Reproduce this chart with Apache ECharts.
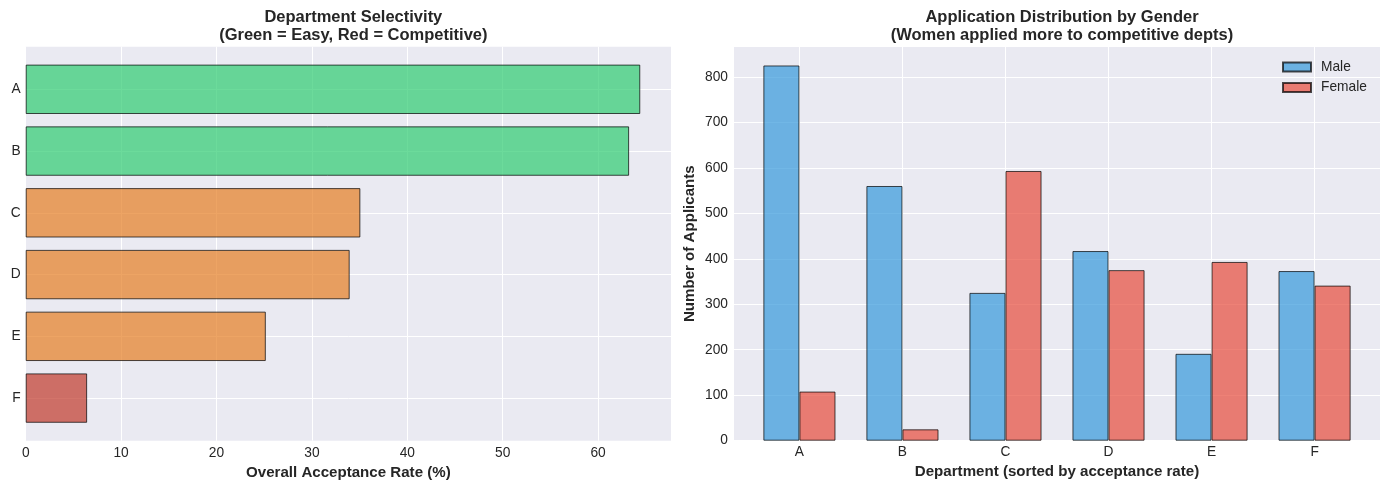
<!DOCTYPE html>
<html>
<head>
<meta charset="utf-8">
<script src="https://cdn.jsdelivr.net/npm/echarts@6/dist/echarts.min.js"></script>
<style>
html,body{margin:0;padding:0;background:#fff;}
#chart{width:1389px;height:489px;}
</style>
</head>
<body>
<div id="chart"></div>
<script>
// ---- data ----
const departments = ['A', 'B', 'C', 'D', 'E', 'F'];
const acceptanceRate = [64.42, 63.25, 35.08, 33.96, 25.17, 6.44];
const maleApplicants = [825, 560, 325, 417, 191, 373];
const femaleApplicants = [108, 25, 593, 375, 393, 341];
const rateTicks = [0, 10, 20, 30, 40, 50, 60];
const countTicks = [0, 100, 200, 300, 400, 500, 600, 700, 800];

// ---- styling ----
const FONT = "'Liberation Sans', Arial, sans-serif";
const TXT = '#262626';
const BG = '#EAEAF2';
const EDGE = 'rgba(0,0,0,0.7)';
function rateColor(v) {
  if (v > 50) return 'rgba(46,204,113,0.7)';
  if (v > 10) return 'rgba(230,126,34,0.7)';
  return 'rgba(192,57,43,0.7)';
}
const rateMax = Math.max(...acceptanceRate) * 1.05;
const countMax = Math.max(...maleApplicants, ...femaleApplicants) * 1.05;
const split = { show: true, lineStyle: { color: '#ffffff', width: 1 } };
const noLine = { show: false };
const tickLabel = { color: TXT, fontSize: 13.75, fontFamily: FONT };
const nameStyle = { color: TXT, fontSize: 15.1, fontWeight: 'bold', fontFamily: FONT };

const W = 1389, H = 489;
// left panel geometry
const L = { x0: 25.7, x1: 671, y0: 46.7, y1: 440.7 };
const lUnit = (L.y1 - L.y0) / 6.38;
// right panel geometry
const R = { x0: 734, x1: 1380, y0: 46.7, y1: 440.7 };
const rUnit = (R.x1 - R.x0) / 6.27;
const rA = R.x0 + 0.635 * rUnit;

const titleStyle = { color: TXT, fontSize: 16.5, fontWeight: 'bold', fontFamily: FONT, lineHeight: 18.5 };

const option = {
  animation: false,
  backgroundColor: '#ffffff',
  textStyle: { fontFamily: FONT },
  title: [
    { text: 'Department Selectivity\n(Green = Easy, Red = Competitive)', left: (L.x0 + L.x1) / 2, top: 3, textAlign: 'center', textStyle: titleStyle },
    { text: 'Application Distribution by Gender\n(Women applied more to competitive depts)', left: (R.x0 + R.x1) / 2, top: 3, textAlign: 'center', textStyle: titleStyle }
  ],
  legend: {
    data: ['Male', 'Female'], orient: 'vertical', left: 1277, top: 55,
    icon: 'rect', itemWidth: 28, itemHeight: 9, itemGap: 6.5,
    textStyle: { color: TXT, fontSize: 13.75, fontFamily: FONT, padding: [0, 0, 0, 5] }
  },
  grid: [
    { left: L.x0, right: W - L.x1, top: L.y0, bottom: H - L.y1, show: true, backgroundColor: BG, borderWidth: 0 },
    { left: L.x0, right: W - L.x1, top: L.y0 + 0.69 * lUnit, bottom: H - (L.y0 + 5.69 * lUnit) },
    { left: L.x0, right: W - L.x1, top: L.y0 + 0.19 * lUnit, bottom: H - (L.y0 + 6.19 * lUnit) },
    { left: R.x0, right: W - R.x1, top: R.y0, bottom: H - R.y1, show: true, backgroundColor: BG, borderWidth: 0 },
    { left: rA, right: W - (rA + 5 * rUnit), top: R.y0, bottom: H - R.y1 },
    { left: rA - 0.5 * rUnit, right: W - (rA + 5.5 * rUnit), top: R.y0, bottom: H - R.y1 }
  ],
  xAxis: [
    { gridIndex: 0, type: 'value', min: 0, max: rateMax, interval: 10,
      axisLine: noLine, axisTick: noLine, splitLine: split,
      axisLabel: Object.assign({ margin: 6, showMaxLabel: false,
        formatter: v => rateTicks.includes(v) ? String(v) : '' }, tickLabel),
      name: 'Overall Acceptance Rate (%)', nameLocation: 'middle', nameGap: 22, nameTextStyle: nameStyle },
    { gridIndex: 1, type: 'value', min: 0, max: 1, show: false },
    { gridIndex: 2, type: 'value', min: 0, max: rateMax, show: false },
    { gridIndex: 3, type: 'value', min: 0, max: 1, show: false },
    { gridIndex: 4, type: 'value', min: 0, max: 5, interval: 1,
      axisLine: noLine, axisTick: noLine, axisLabel: { show: false }, splitLine: split },
    { gridIndex: 5, type: 'category', data: departments,
      axisLine: noLine, axisTick: noLine, splitLine: noLine,
      axisLabel: Object.assign({ margin: 5 }, tickLabel),
      name: 'Department (sorted by acceptance rate)', nameLocation: 'middle', nameGap: 22, nameTextStyle: nameStyle }
  ],
  yAxis: [
    { gridIndex: 0, type: 'value', min: 0, max: 1, show: false },
    { gridIndex: 1, type: 'value', min: 0, max: 5, interval: 1,
      axisLine: noLine, axisTick: noLine, axisLabel: { show: false }, splitLine: split },
    { gridIndex: 2, type: 'category', data: departments, inverse: true,
      axisLine: noLine, axisTick: noLine, splitLine: noLine,
      axisLabel: Object.assign({ margin: 5 }, tickLabel) },
    { gridIndex: 3, type: 'value', min: 0, max: countMax, interval: 100,
      axisLine: noLine, axisTick: noLine, splitLine: split,
      axisLabel: Object.assign({ margin: 6, showMaxLabel: false,
        formatter: v => countTicks.includes(v) ? String(v) : '' }, tickLabel),
      name: 'Number of Applicants', nameLocation: 'middle', nameGap: 37, nameTextStyle: nameStyle },
    { gridIndex: 4, type: 'value', min: 0, max: 1, show: false },
    { gridIndex: 5, type: 'value', min: 0, max: countMax, show: false }
  ],
  series: [
    { type: 'bar', xAxisIndex: 2, yAxisIndex: 2, barWidth: 0.8 * lUnit,
      data: acceptanceRate.map(v => ({ value: v, itemStyle: { color: rateColor(v) } })),
      itemStyle: { borderColor: EDGE, borderWidth: 1 } },
    { name: 'Male', type: 'bar', xAxisIndex: 5, yAxisIndex: 5, barWidth: 0.35 * rUnit, barGap: '0%',
      data: maleApplicants, itemStyle: { color: 'rgba(52,152,219,0.7)', borderColor: EDGE, borderWidth: 1 } },
    { name: 'Female', type: 'bar', xAxisIndex: 5, yAxisIndex: 5, barWidth: 0.35 * rUnit, barGap: '0%',
      data: femaleApplicants, itemStyle: { color: 'rgba(231,76,60,0.7)', borderColor: EDGE, borderWidth: 1 } }
  ]
};
const chart = echarts.init(document.getElementById('chart'), null, { renderer: 'canvas' });
chart.setOption(option);
</script>
</body>
</html>
